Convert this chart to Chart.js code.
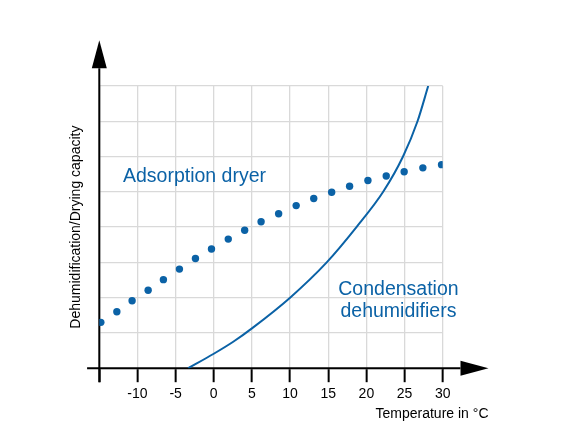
<!DOCTYPE html>
<html>
<head>
<meta charset="utf-8">
<title>Dehumidification capacity</title>
<script src="https://cdn.jsdelivr.net/npm/chart.js@4.4.1/dist/chart.umd.min.js"></script>
<style>
    html, body { margin: 0; padding: 0; background: #fff; }
    #wrap { width: 576px; height: 432px; }
</style>
</head>
<body>
<div id="wrap"><canvas id="chart" width="576" height="432"></canvas></div>
<script>
// 数据
const xTickValues = [-15, -10, -5, 0, 5, 10, 15, 20, 25, 30];

const adsorptionTemp = [-14.8, -12.7, -10.7, -8.6, -6.6, -4.5, -2.4, -0.3, 1.9, 4.05,
    6.2, 8.5, 10.8, 13.1, 15.45, 17.8, 20.2, 22.6, 24.95, 27.4, 29.85];
const adsorptionCapacity = [1.30, 1.60, 1.91, 2.21, 2.51, 2.81, 3.11, 3.38, 3.66, 3.91,
    4.15, 4.38, 4.61, 4.81, 4.99, 5.16, 5.32, 5.45, 5.57, 5.68, 5.77];

const condensationTemp = [-3.35, 0, 2.55, 5, 10, 14.8, 18.7, 22.2, 24.8, 26.7, 28.1];
const condensationCapacity = [0, 0.41, 0.75, 1.13, 2.0, 3.0, 4.0, 5.0, 6.0, 7.0, 8.0];

const seriesColor = '#0b62a6';
const fontFamily = '"Liberation Sans", Arial, sans-serif';

// 坐标轴箭头（数据单位）
const xAxisFrom = -16.6;
const xAxisTo = 36;
const yAxisTo = 9.3;

function toPoints(xs, ys) {
    return xs.map((x, i) => ({ x: x, y: ys[i] }));
}

// 画带箭头的坐标轴和文字标注
const axisArrows = {
    id: 'axisArrows',
    beforeDatasetsDraw(chart) {
        const { ctx, scales: { x, y } } = chart;
        const y0 = y.getPixelForValue(0);
        const xLeft = x.getPixelForValue(-15);
        const xStart = x.getPixelForValue(xAxisFrom);
        const xTip = x.getPixelForValue(xAxisTo);
        const yTip = y.getPixelForValue(yAxisTo);
        const len = 28, half = 7.5;

        ctx.save();
        ctx.strokeStyle = '#000';
        ctx.fillStyle = '#000';
        ctx.lineWidth = 2;

        ctx.beginPath();
        ctx.moveTo(xStart, y0);
        ctx.lineTo(xTip - len, y0);
        ctx.moveTo(xLeft, y0 + 14);
        ctx.lineTo(xLeft, yTip + len);
        ctx.stroke();

        ctx.beginPath();
        ctx.moveTo(xTip, y0);
        ctx.lineTo(xTip - len, y0 - half);
        ctx.lineTo(xTip - len, y0 + half);
        ctx.closePath();
        ctx.fill();

        ctx.beginPath();
        ctx.moveTo(xLeft, yTip);
        ctx.lineTo(xLeft - half, yTip + len);
        ctx.lineTo(xLeft + half, yTip + len);
        ctx.closePath();
        ctx.fill();

        ctx.font = '14px ' + fontFamily;
        ctx.textAlign = 'right';
        ctx.textBaseline = 'alphabetic';
        ctx.fillText('Temperature in °C', xTip, y0 + 50);
        ctx.restore();
    },
    afterDatasetsDraw(chart) {
        const { ctx, scales: { x, y } } = chart;
        ctx.save();
        ctx.fillStyle = seriesColor;
        ctx.font = '19.5px ' + fontFamily;
        ctx.textBaseline = 'alphabetic';
        ctx.textAlign = 'left';
        ctx.fillText('Adsorption dryer', x.getPixelForValue(-11.9), y.getPixelForValue(5.29));
        ctx.textAlign = 'center';
        ctx.fillText('Condensation', x.getPixelForValue(24.2), y.getPixelForValue(2.08));
        ctx.fillText('dehumidifiers', x.getPixelForValue(24.2), y.getPixelForValue(1.46));
        ctx.restore();
    }
};

Chart.defaults.font.family = fontFamily;

const ctx = document.getElementById('chart').getContext('2d');
const chart = new Chart(ctx, {
    type: 'line',
    data: {
        datasets: [
            {
                label: 'Adsorption dryer',
                data: toPoints(adsorptionTemp, adsorptionCapacity),
                showLine: false,
                pointRadius: 3.7,
                pointBackgroundColor: seriesColor,
                pointBorderWidth: 0,
                borderColor: seriesColor
            },
            {
                label: 'Condensation dehumidifiers',
                data: toPoints(condensationTemp, condensationCapacity),
                borderColor: seriesColor,
                borderWidth: 2,
                pointRadius: 0,
                cubicInterpolationMode: 'monotone',
                fill: false
            }
        ]
    },
    options: {
        responsive: false,
        animation: false,
        layout: {
            padding: { left: 67.3, top: 86, right: 133.3, bottom: 25 }
        },
        plugins: {
            legend: { display: false },
            tooltip: { enabled: false }
        },
        scales: {
            x: {
                type: 'linear',
                min: -15,
                max: 30,
                afterBuildTicks: scale => {
                    scale.ticks = xTickValues.map(v => ({ value: v }));
                },
                border: { display: false },
                grid: {
                    color: '#d9d9d9',
                    lineWidth: 1.3,
                    drawTicks: true,
                    tickLength: 14,
                    tickColor: '#000',
                    tickWidth: 2
                },
                ticks: {
                    color: '#000',
                    font: { size: 14 },
                    padding: 4,
                    maxRotation: 0,
                    autoSkip: false,
                    callback: v => (v === -15 ? '' : v)
                }
            },
            y: {
                min: 0,
                max: 8,
                border: { display: false },
                grid: {
                    color: '#d9d9d9',
                    lineWidth: 1.3,
                    drawTicks: false
                },
                ticks: {
                    display: false,
                    stepSize: 1
                },
                title: {
                    display: true,
                    text: 'Dehumidification/Drying capacity',
                    color: '#000',
                    font: { size: 14 },
                    padding: { top: 0, bottom: 15.2 }
                }
            }
        }
    },
    plugins: [axisArrows]
});
</script>
</body>
</html>
